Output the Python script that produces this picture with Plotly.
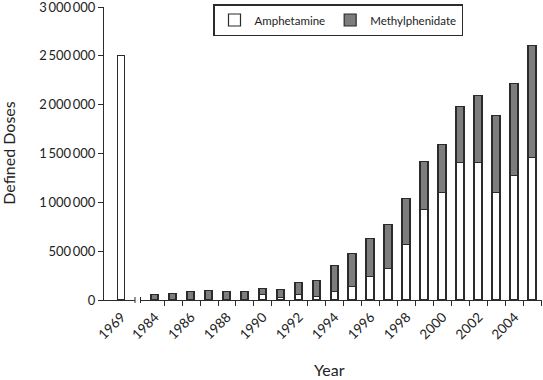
import plotly.graph_objects as go

# ---- data ----
year_early = [1969]
amph_early = [2500000]

years = list(range(1984, 2006))
amphetamine = [0, 0, 0, 0, 0, 0, 51000, 24000, 49000, 33000, 83000, 130000,
               236000, 321000, 565000, 922000, 1100000, 1400000, 1400000,
               1100000, 1270000, 1450000]
methylphenidate = [51000, 58000, 78000, 92000, 82000, 82000, 65000, 75000,
                   126000, 166000, 261000, 340000, 387000, 451000, 469000,
                   492000, 491000, 574000, 690000, 780000, 943000, 1150000]

label_years = list(range(1984, 2006, 2))
y_ticks = [0, 500000, 1000000, 1500000, 2000000, 2500000, 3000000]
y_labels = ["0", "500\u2009000", "1\u2009000\u2009000", "1\u2009500\u2009000",
            "2\u2009000\u2009000", "2\u2009500\u2009000", "3\u2009000\u2009000"]

# ---- style ----
FONT = "Lato"
DARK = "#2b2b2b"
GRAY = "#7d7d7d"
W, H = 543, 380
L, R, T, B = 104, 1, 7, 79.5
pw = W - L - R
ph = H - T - B
seg1_end = 135
seg2_start = 140.5
d1 = [0, (seg1_end - L) / pw]
d2 = [(seg2_start - L) / pw, 1]
bw = 0.43

fig = go.Figure()
fig.add_trace(go.Bar(x=year_early, y=amph_early, xaxis="x", yaxis="y",
                     width=bw, marker=dict(color="white", line=dict(color=DARK, width=1.2)),
                     showlegend=False, name="Amphetamine"))
fig.add_trace(go.Bar(x=years, y=amphetamine, xaxis="x2", yaxis="y2",
                     width=bw, marker=dict(color="white", line=dict(color=DARK, width=1.2)),
                     name="Amphetamine"))
fig.add_trace(go.Bar(x=years, y=methylphenidate, xaxis="x2", yaxis="y2",
                     width=bw, marker=dict(color=GRAY, line=dict(color=DARK, width=1.2)),
                     name="Methylphenidate"))

xcommon = dict(showline=True, linecolor=DARK, linewidth=1, showgrid=False,
               zeroline=False, ticks="", tickangle=-45, ticklabelstandoff=3,
               tickfont=dict(family=FONT, size=13.5, color="#222"))
fig.update_layout(
    width=W, height=H,
    margin=dict(l=L, r=R, t=T, b=B, autoexpand=False),
    paper_bgcolor="white", plot_bgcolor="white",
    barmode="stack", bargap=0,
    font=dict(family=FONT, color="#222"),
    xaxis=dict(domain=d1, range=[1968.03, 1969.75], tickmode="array",
               tickvals=year_early, ticktext=[str(v) for v in year_early],
               anchor="y", **xcommon),
    xaxis2=dict(domain=d2, range=[1983.19, 2005.52], tickmode="array",
                tickvals=label_years, ticktext=[str(v) for v in label_years],
                anchor="y2",
                minor=dict(tickmode="array",
                           tickvals=[y + 0.5 for y in years],
                           ticks="outside", ticklen=5, tickcolor=DARK, tickwidth=1),
                **xcommon),
    yaxis=dict(range=[0, 3000000], tickmode="array", tickvals=y_ticks,
               ticktext=y_labels, showline=True, linecolor=DARK, linewidth=1,
               ticks="outside", ticklen=5, tickcolor=DARK, showgrid=False,
               zeroline=False, tickfont=dict(family=FONT, size=13, color="#222"),
               ticklabeloverflow="allow", anchor="x"),
    yaxis2=dict(range=[0, 3000000], overlaying="y", visible=False, anchor="x2"),
    legend=dict(orientation="h", x=(213 - L) / pw, y=1 + (T - 4) / ph,
                xanchor="left", yanchor="top", bgcolor="white",
                bordercolor=DARK, borderwidth=1.5,
                font=dict(family=FONT, size=11.5, color="#222"),
                traceorder="normal"),
    annotations=[
        dict(text="Defined Doses", textangle=-90, xref="paper", yref="paper",
             x=(9 - L) / pw, y=(H - B - 153) / ph, showarrow=False,
             font=dict(family=FONT, size=16, color="#222"),
             xanchor="center", yanchor="middle"),
        dict(text="Year", xref="paper", yref="paper",
             x=(329.5 - L) / pw, y=-(370 - (H - B)) / ph, showarrow=False,
             font=dict(family=FONT, size=16, color="#222"),
             xanchor="center", yanchor="middle"),
    ],
    shapes=[
        dict(type="line", xref="x domain", yref="paper", x0=1, x1=1,
             y0=-3 / ph, y1=3 / ph, line=dict(color=DARK, width=1)),
        dict(type="line", xref="x2 domain", yref="paper", x0=0, x1=0,
             y0=-3 / ph, y1=3 / ph, line=dict(color=DARK, width=1)),
    ],
)

fig.write_html("out.html", config={"displayModeBar": False},
               post_script="document.body.style.margin='0';document.body.style.overflow='hidden';")
